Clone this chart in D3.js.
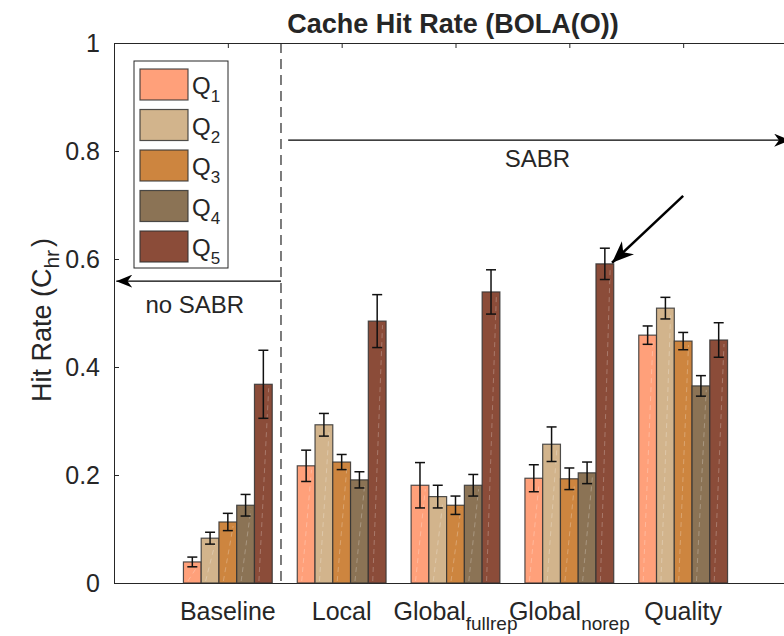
<!DOCTYPE html>
<html>
<head>
<meta charset="utf-8">
<script src="https://cdn.jsdelivr.net/npm/d3@7"></script>
<style>
  body { margin: 0; background: #fff; }
  text { font-family: "Liberation Sans", Arial, Helvetica, sans-serif; fill: #262626; }
</style>
</head>
<body>
<div id="chart"></div>
<script>
// basic dimensions
var width = 784;
var height = 636;

// DATA
var categories = ["Baseline", "Local", "Global", "Global", "Quality"];
var categorySubs = ["", "", "fullrep", "norep", ""];
var seriesNames = ["Q1", "Q2", "Q3", "Q4", "Q5"];
var seriesColours = ["#FFA07A", "#D2B48C", "#CD853F", "#8B7355", "#8B4C39"];

var q1 = [0.039, 0.217, 0.181, 0.194, 0.459];
var q2 = [0.083, 0.293, 0.160, 0.257, 0.509];
var q3 = [0.113, 0.224, 0.144, 0.193, 0.448];
var q4 = [0.144, 0.191, 0.181, 0.204, 0.365];
var q5 = [0.368, 0.485, 0.539, 0.591, 0.450];

var q1Err = [0.009, 0.029, 0.042, 0.025, 0.017];
var q2Err = [0.011, 0.021, 0.021, 0.032, 0.020];
var q3Err = [0.016, 0.014, 0.017, 0.020, 0.016];
var q4Err = [0.020, 0.015, 0.020, 0.020, 0.019];
var q5Err = [0.063, 0.049, 0.041, 0.029, 0.032];

var yTicks = [0, 0.2, 0.4, 0.6, 0.8, 1];

var seriesValues = [q1, q2, q3, q4, q5];
var seriesErrors = [q1Err, q2Err, q3Err, q4Err, q5Err];

// SCALES
var xScale = d3.scaleLinear().domain([0, 6]).range([114, 797]);
var yScale = d3.scaleLinear().domain([0, 1]).range([583, 43]);
var inner = d3.scaleBand().domain(seriesNames).range([-0.39, 0.39]);
var colours = d3.scaleOrdinal().domain(seriesNames).range(seriesColours);

var svg = d3.select("#chart")
    .append("svg")
    .attr("width", width)
    .attr("height", height);

svg.append("rect").attr("width", width).attr("height", height).attr("fill", "#fff");

// arrow heads
var defs = svg.append("defs");
function addHead(id, len, wid) {
    defs.append("marker")
        .attr("id", id)
        .attr("markerUnits", "userSpaceOnUse")
        .attr("viewBox", "0 0 " + len + " " + wid)
        .attr("refX", len)
        .attr("refY", wid / 2)
        .attr("markerWidth", len)
        .attr("markerHeight", wid)
        .attr("orient", "auto")
        .append("path")
        .attr("d", "M0,0L" + len + "," + (wid / 2) + "L0," + wid + "L" + (len * 0.3) + "," + (wid / 2) + "Z")
        .attr("fill", "#000");
}
addHead("headSmall", 16, 13);
addHead("headBig", 22, 18);

// flatten to bar records
var bars = [];
seriesNames.forEach(function(s, si) {
    categories.forEach(function(c, ci) {
        bars.push({
            series: s,
            cat: ci + 1,
            value: seriesValues[si][ci],
            err: seriesErrors[si][ci]
        });
    });
});

var barW = xScale(inner.bandwidth()) - xScale(0);

// axes
svg.append("g")
    .attr("class", "y axis")
    .attr("transform", "translate(" + xScale(0) + ",0)")
    .call(d3.axisLeft(yScale).tickValues(yTicks).tickSize(-5).tickSizeOuter(0).tickPadding(14).tickFormat(d3.format("")))
    .call(function(g) {
        g.selectAll("text").style("font-size", "25px").attr("fill", "#262626");
        g.selectAll("line, path").attr("stroke", "#262626");
    });

svg.append("g")
    .attr("class", "x axis top")
    .attr("transform", "translate(0," + yScale(1) + ")")
    .call(d3.axisTop(xScale).tickValues([1, 2, 3, 4, 5]).tickSize(-5).tickSizeOuter(0).tickFormat(""))
    .call(function(g) { g.selectAll("line, path").attr("stroke", "#262626"); });

svg.append("g")
    .attr("class", "x axis bottom")
    .attr("transform", "translate(0," + yScale(0) + ")")
    .call(d3.axisBottom(xScale).tickValues([1, 2, 3, 4, 5]).tickSize(-5).tickSizeOuter(0).tickFormat(""))
    .call(function(g) { g.selectAll("line, path").attr("stroke", "#262626"); });

// category labels with subscripts
var catLabels = svg.append("g").selectAll("text")
    .data(categories)
    .enter()
    .append("text")
    .attr("x", function(d, i) { return xScale(i + 1); })
    .attr("y", 620)
    .attr("text-anchor", "middle")
    .style("font-size", "25px");
catLabels.append("tspan").text(function(d) { return d; });
catLabels.append("tspan")
    .attr("dy", 10)
    .style("font-size", "19px")
    .text(function(d, i) { return categorySubs[i]; });

// bars
var barG = svg.append("g");
barG.selectAll("rect")
    .data(bars)
    .enter()
    .append("rect")
    .attr("x", function(d) { return xScale(d.cat + inner(d.series)); })
    .attr("y", function(d) { return yScale(d.value); })
    .attr("width", barW)
    .attr("height", function(d) { return yScale(0) - yScale(d.value); })
    .attr("fill", function(d) { return colours(d.series); })
    .attr("stroke", "#333")
    .attr("stroke-opacity", 0.85)
    .attr("stroke-width", 1.2);

// faint streak inside each bar
barG.selectAll("line.streak")
    .data(bars)
    .enter()
    .append("line")
    .attr("class", "streak")
    .attr("x1", function(d) { return xScale(d.cat + inner(d.series)) + barW * 0.25; })
    .attr("x2", function(d) { return xScale(d.cat + inner(d.series)) + barW * 0.8; })
    .attr("y1", yScale(0) - 2)
    .attr("y2", function(d) { return yScale(d.value) + 4; })
    .attr("stroke", "#fff")
    .attr("stroke-opacity", 0.25)
    .attr("stroke-dasharray", "5,4");

// error bars
var errG = svg.append("g").attr("stroke", "#111").attr("stroke-width", 1.5);
var errs = errG.selectAll("g")
    .data(bars)
    .enter()
    .append("g")
    .attr("transform", function(d) { return "translate(" + (xScale(d.cat + inner(d.series)) + barW / 2) + ",0)"; });
errs.append("line")
    .attr("y1", function(d) { return yScale(d.value - d.err); })
    .attr("y2", function(d) { return yScale(d.value + d.err); });
errs.append("line")
    .attr("x1", -5).attr("x2", 5)
    .attr("y1", function(d) { return yScale(d.value + d.err); })
    .attr("y2", function(d) { return yScale(d.value + d.err); });
errs.append("line")
    .attr("x1", -5).attr("x2", 5)
    .attr("y1", function(d) { return yScale(d.value - d.err); })
    .attr("y2", function(d) { return yScale(d.value - d.err); });

// dashed separator
var sepX = 1.467;
svg.append("line")
    .attr("x1", xScale(sepX)).attr("x2", xScale(sepX))
    .attr("y1", yScale(1)).attr("y2", yScale(0))
    .attr("stroke", "#262626")
    .attr("stroke-width", 1.2)
    .attr("stroke-dasharray", "10,6");

// annotations
svg.append("line")
    .attr("x1", xScale(1.53)).attr("x2", xScale(5.94))
    .attr("y1", yScale(0.82)).attr("y2", yScale(0.82))
    .attr("stroke", "#000").attr("stroke-width", 1.2)
    .attr("marker-end", "url(#headSmall)");
svg.append("text")
    .attr("x", xScale(3.72)).attr("y", yScale(0.77))
    .attr("text-anchor", "middle")
    .style("font-size", "24px")
    .text("SABR");

svg.append("line")
    .attr("x1", xScale(sepX)).attr("x2", xScale(0.02))
    .attr("y1", yScale(0.559)).attr("y2", yScale(0.559))
    .attr("stroke", "#000").attr("stroke-width", 1.2)
    .attr("marker-end", "url(#headSmall)");
svg.append("text")
    .attr("x", xScale(0.71)).attr("y", yScale(0.5))
    .attr("text-anchor", "middle")
    .style("font-size", "24px")
    .text("no SABR");

svg.append("line")
    .attr("x1", xScale(5.0)).attr("x2", xScale(4.375))
    .attr("y1", yScale(0.717)).attr("y2", yScale(0.593))
    .attr("stroke", "#000").attr("stroke-width", 2.5)
    .attr("marker-end", "url(#headBig)");

// legend
var legend = svg.append("g").attr("transform", "translate(134,61)");
legend.append("rect")
    .attr("width", 94).attr("height", 207)
    .attr("fill", "#fff").attr("stroke", "#262626");
var items = legend.selectAll("g.item")
    .data(seriesNames)
    .enter()
    .append("g")
    .attr("class", "item")
    .attr("transform", function(d, i) { return "translate(6," + (8 + i * 40.5) + ")"; });
items.append("rect")
    .attr("width", 48).attr("height", 31)
    .attr("fill", function(d) { return colours(d); })
    .attr("stroke", "#333").attr("stroke-opacity", 0.85).attr("stroke-width", 1.2);
var itemText = items.append("text")
    .attr("x", 52).attr("y", 25)
    .style("font-size", "24px");
itemText.append("tspan").text(function(d) { return d.charAt(0); });
itemText.append("tspan")
    .attr("dy", 8)
    .style("font-size", "17px")
    .text(function(d) { return d.slice(1); });

// y label
var yLab = svg.append("text")
    .attr("transform", "translate(51," + 320 + ") rotate(-90)")
    .attr("text-anchor", "middle")
    .style("font-size", "27px");
yLab.append("tspan").text("Hit Rate (C");
yLab.append("tspan").attr("dy", 8).style("font-size", "21px").text("hr");
yLab.append("tspan").attr("dy", -8).attr("dx", 3).text(")");

// title
svg.append("text")
    .attr("x", 453).attr("y", 33)
    .attr("text-anchor", "middle")
    .style("font-size", "27px")
    .style("font-weight", "bold")
    .attr("fill", "#000")
    .text("Cache Hit Rate (BOLA(O))");
</script>
</body>
</html>
